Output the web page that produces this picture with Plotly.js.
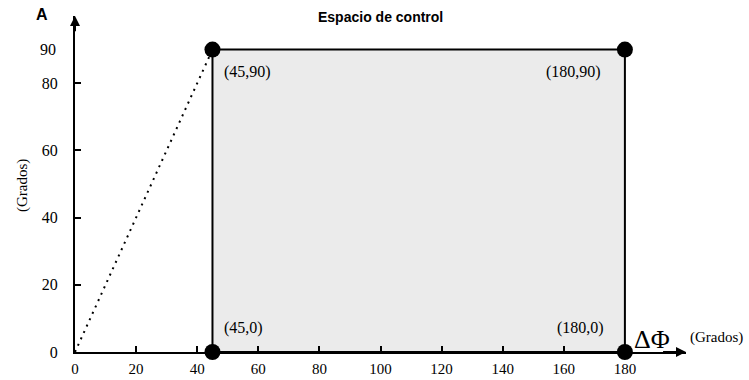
<!DOCTYPE html>
<html>
<head>
<meta charset="utf-8">
<script src="https://cdn.plot.ly/plotly-3.0.1.min.js"></script>
<style>html,body{margin:0;padding:0;background:#fff;}#chart{width:749px;height:380px;}</style>
</head>
<body>
<div id="chart"></div>
<script>
// Data
const regionX = [45, 180, 180, 45, 45];
const regionY = [90, 90, 0, 0, 90];
const cornerX = [45, 180, 45, 180];
const cornerY = [90, 90, 0, 0];
const cornerLabels = ["(45,90)", "(180,90)", "(45,0)", "(180,0)"];
const lineX = [0, 45];
const lineY = [0, 90];
const xTicks = [0, 20, 40, 60, 80, 100, 120, 140, 160, 180];
const yTicks = [0, 20, 40, 60, 80];
const yExtraTicks = [90];
const titleText = "Espacio de control";
const xLabel = "ΔΦ";
const unitLabel = "(Grados)";

const serif = "'Liberation Serif', 'Times New Roman', serif";
const sans = "'Liberation Sans', Arial, sans-serif";

const traces = [
  {x: regionX, y: regionY, mode: "lines", fill: "toself", fillcolor: "#ebebeb",
   line: {color: "#000", width: 2}, hoverinfo: "skip", cliponaxis: false},
  {x: lineX, y: lineY, mode: "lines", line: {color: "#000", width: 2, dash: "2px,5px"}, cliponaxis: false},
  {x: cornerX, y: cornerY, mode: "markers", marker: {color: "#000", size: 16}, cliponaxis: false}
];

const cornerShift = [[10, -22], [-22, -22], [10, 24], [-19, 24]];
const cornerAnn = cornerX.map((cx, i) => ({
  x: cx, y: cornerY[i], xref: "x", yref: "y", text: cornerLabels[i], showarrow: false,
  xanchor: cx < 100 ? "left" : "right", yanchor: "middle",
  xshift: cornerShift[i][0], yshift: cornerShift[i][1],
  font: {family: serif, size: 16, color: "#000"}
}));

const extraTickAnn = yExtraTicks.map(v => ({
  x: 0, y: v, xref: "x", yref: "y", text: String(v), showarrow: false,
  xanchor: "right", yanchor: "middle", xshift: -17,
  font: {family: serif, size: 16, color: "#000"}
}));

const layout = {
  width: 749, height: 380,
  margin: {l: 75, r: 63, t: 16, b: 28},
  paper_bgcolor: "#fff", plot_bgcolor: "rgba(0,0,0,0)",
  showlegend: false,
  xaxis: {range: [0, 200], tickvals: xTicks, ticktext: xTicks.map(String), ticks: "inside",
    ticklen: 6, tickwidth: 2, tickcolor: "#000", showline: true, linewidth: 2, linecolor: "#000",
    showgrid: false, zeroline: false, ticklabelstandoff: 2,
    tickfont: {family: serif, size: 15, color: "#000"}},
  yaxis: {range: [0, 100], tickvals: yTicks, ticktext: yTicks.map(String), ticks: "inside",
    ticklen: 6, tickwidth: 2, tickcolor: "#000", showline: true, linewidth: 2, linecolor: "#000",
    showgrid: false, zeroline: false, ticklabelstandoff: 12,
    tickfont: {family: serif, size: 16, color: "#000"}},
  annotations: [
    ...cornerAnn,
    ...extraTickAnn,
    {x: 200, y: 0, ax: 192, ay: 0, xref: "x", yref: "y", axref: "x", ayref: "y", text: "",
     showarrow: true, arrowhead: 2, arrowsize: 1, arrowwidth: 2, arrowcolor: "#000"},
    {x: 0, y: 100, ax: 0, ay: 95, xref: "x", yref: "y", axref: "x", ayref: "y", text: "",
     showarrow: true, arrowhead: 2, arrowsize: 1, arrowwidth: 2, arrowcolor: "#000"},
    {x: 652, y: 339, xref: "paper", yref: "paper", text: xLabel, showarrow: false,
     font: {family: serif, size: 26, color: "#000"}},
    {x: 716, y: 337, xref: "paper", yref: "paper", text: unitLabel, showarrow: false,
     font: {family: serif, size: 15, color: "#000"}},
    {x: 22, y: 186, xref: "paper", yref: "paper", text: unitLabel, showarrow: false, textangle: -90,
     font: {family: serif, size: 15, color: "#000"}},
    {x: 380, y: 17, xref: "paper", yref: "paper", text: "<b>" + titleText + "</b>", showarrow: false,
     font: {family: sans, size: 14, color: "#000"}},
    {x: 42, y: 14, xref: "paper", yref: "paper", text: "<b>A</b>", showarrow: false,
     font: {family: sans, size: 16, color: "#000"}}
  ]
};
// convert pixel positions for paper-positioned annotations
layout.annotations.forEach(a => {
  if (a.xref === "paper") {
    const pw = 749 - 75 - 63, ph = 380 - 16 - 28;
    a.x = (a.x - 75) / pw;
    a.y = 1 - (a.y - 16) / ph;
    a.xanchor = "center"; a.yanchor = "middle";
  }
});
Plotly.newPlot("chart", traces, layout, {displayModeBar: false, staticPlot: true});
</script>
</body>
</html>
